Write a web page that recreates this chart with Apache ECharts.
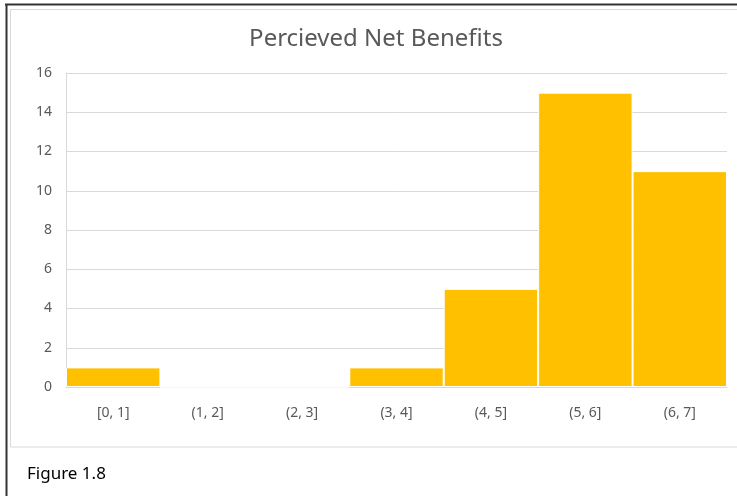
<!DOCTYPE html>
<html>
<head>
<meta charset="utf-8">
<title>Percieved Net Benefits</title>
<script src="https://cdn.jsdelivr.net/npm/echarts@6/dist/echarts.min.js"></script>
<style>
  html, body { margin: 0; padding: 0; background: #ffffff; }
  #chart { width: 737px; height: 496px; }
</style>
</head>
<body>
<div id="chart"></div>
<script>
// Histogram bins and their counts
const binLabels = ['[0, 1]', '(1, 2]', '(2, 3]', '(3, 4]', '(4, 5]', '(5, 6]', '(6, 7]'];
const binCounts = [1, 0, 0, 1, 5, 15, 11];
const titleText = 'Percieved Net Benefits';
const captionText = 'Figure 1.8';

const FONT = '"Noto Sans", "Open Sans", sans-serif';
const chart = echarts.init(document.getElementById('chart'), null, { renderer: 'canvas' });

chart.setOption({
  animation: false,
  backgroundColor: '#ffffff',
  title: {
    text: titleText,
    left: 371,
    textAlign: 'center',
    top: 22,
    textStyle: { fontFamily: FONT, fontSize: 24, fontWeight: 'normal', color: '#595959' }
  },
  grid: { left: 66, right: 10, top: 73, bottom: 109, containLabel: false },
  xAxis: {
    type: 'category',
    data: binLabels,
    axisLine: { show: true, lineStyle: { color: '#d9d9d9', width: 1 } },
    axisTick: { show: false },
    axisLabel: { fontFamily: FONT, fontSize: 14, color: '#595959', margin: 19 }
  },
  yAxis: {
    type: 'value',
    min: 0,
    max: 16,
    interval: 2,
    axisLine: { show: true, lineStyle: { color: '#d9d9d9', width: 1 } },
    axisTick: { show: false },
    splitLine: { lineStyle: { color: '#d9d9d9', width: 1 } },
    axisLabel: { fontFamily: FONT, fontSize: 14, color: '#595959', margin: 14 }
  },
  series: [{
    type: 'bar',
    data: binCounts,
    barCategoryGap: '0%',
    itemStyle: { color: '#FFC000', borderColor: '#ffffff', borderWidth: 1 }
  }],
  graphic: [
    // outer page frame (top and left dark edges)
    { type: 'line', shape: { x1: 5, y1: 4.5, x2: 737, y2: 4.5 }, style: { stroke: '#333333', lineWidth: 2 }, z: 10 },
    { type: 'line', shape: { x1: 6.5, y1: 4, x2: 6.5, y2: 496 }, style: { stroke: '#333333', lineWidth: 2 }, z: 10 },
    // chart area box
    { type: 'rect', shape: { x: 10.5, y: 9.5, width: 740, height: 437.5 }, style: { fill: 'none', stroke: '#d9d9d9', lineWidth: 1 }, z: 9 },
    // caption under the chart
    { type: 'text', x: 27, y: 474, style: { text: captionText, font: '17px ' + FONT, fill: '#000000', verticalAlign: 'middle' }, z: 10 }
  ]
});
</script>
</body>
</html>
